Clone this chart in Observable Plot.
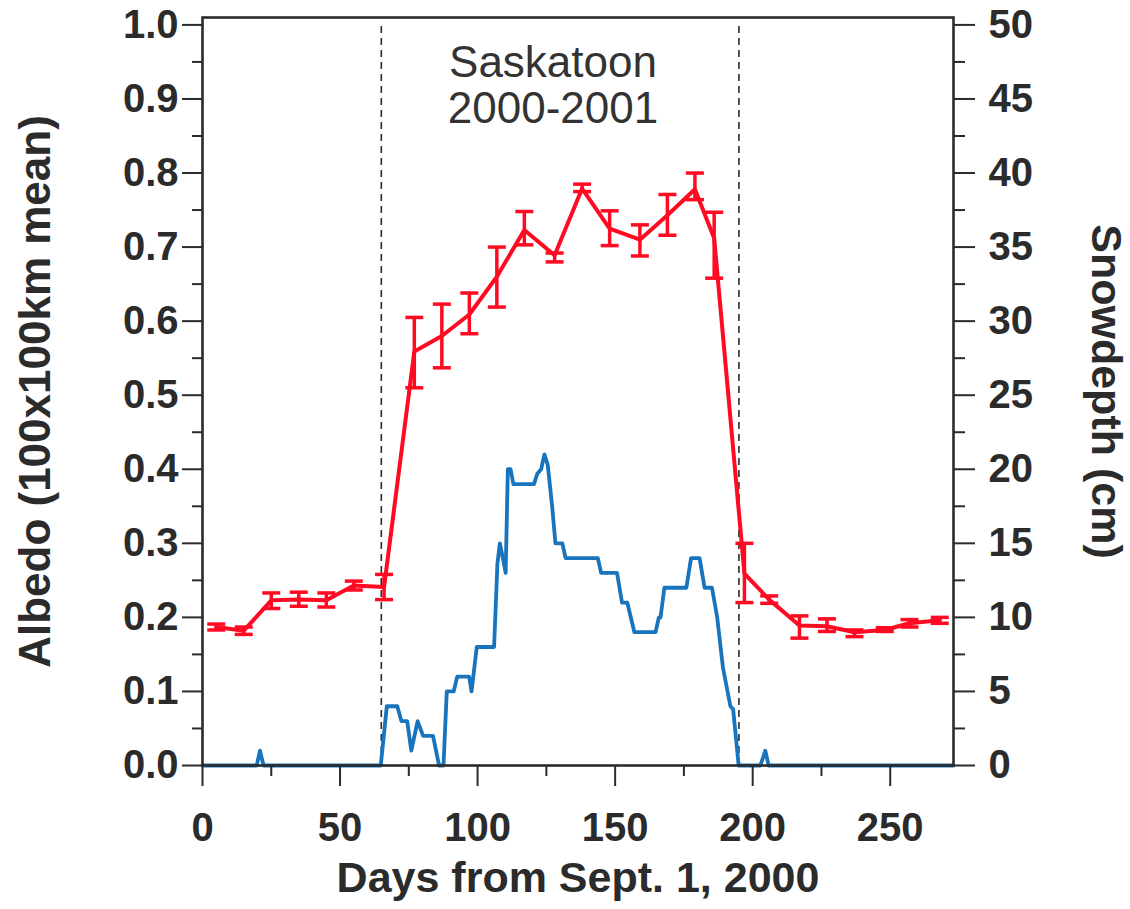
<!DOCTYPE html>
<html><head><meta charset="utf-8">
<script src="https://cdn.jsdelivr.net/npm/d3@7"></script>
<script src="https://cdn.jsdelivr.net/npm/@observablehq/plot@0.6"></script>
<style>body{margin:0;background:#fff}</style>
</head><body><div id="chart"></div>
<script>
// Albedo (100x100km mean), composites with error bars
const albedoDays = [5,15,25,35,45,55,66,77,87,97,107,117,128,138,148,159,169,179,186,197,206,217,227,237,248,257,268];
const albedoMean = [0.187,0.182,0.223,0.224,0.223,0.243,0.241,0.559,0.580,0.609,0.660,0.723,0.689,0.779,0.725,0.710,0.743,0.778,0.712,0.259,0.224,0.189,0.188,0.180,0.183,0.192,0.196];
const albedoLow  = [0.183,0.177,0.212,0.215,0.214,0.237,0.224,0.510,0.537,0.583,0.619,0.703,0.680,0.775,0.702,0.688,0.716,0.764,0.658,0.220,0.219,0.172,0.181,0.174,0.181,0.187,0.192];
const albedoHigh = [0.191,0.187,0.233,0.234,0.233,0.249,0.258,0.605,0.623,0.638,0.700,0.748,0.692,0.785,0.749,0.730,0.771,0.800,0.747,0.300,0.229,0.202,0.198,0.183,0.186,0.197,0.200];

// Snow depth (cm), daily trace vertices
const snowDays  = [0,19.7,20.9,22.2,64.8,67,70.8,72.3,74.4,75.9,78.2,80.2,83.8,86,87.6,88.8,91.3,92.6,96.9,97.8,99.7,106,107.2,108.1,109.3,110.2,111,112,113,120.5,121.7,123.1,124.3,125.5,127.1,128.3,130.8,132,143.7,144.9,150.7,152.5,154.4,157,164.7,165.9,166.5,167.9,175.9,177.6,180.7,182.5,185.2,187.1,189.2,191.9,192.9,194.9,202.8,204.6,205.8,273];
const snowDepth = [0,0,1,0,0,4,4,3,3,1,3,2,2,0,0,5,5,6,6,5,8,8,13.6,15,13.9,13,20,20,19,19,19.7,20,21,20.3,17.5,15,15,14,14,13,13,11,11,9,9,10,10,12,12,14,14,12,12,10,6.6,4,3.8,0,0,1,0,0];

// Event markers (snow onset / melt)
const eventDays = [65, 195];

// Axis ticks
const albedoTicks = [0,0.1,0.2,0.3,0.4,0.5,0.6,0.7,0.8,0.9,1.0];
const albedoMinor = [0.05,0.15,0.25,0.35,0.45,0.55,0.65,0.75,0.85,0.95];
const snowTicks = [0,5,10,15,20,25,30,35,40,45,50];
const snowMax = 50;
const dayTicks = [0,50,100,150,200,250];
const dayMinor = [25,75,125,175,225];

const title = ["Saskatoon\n2000-2001"];
const xLabel = ["Days from Sept. 1, 2000"];
const yLabel = ["Albedo (100x100km mean)"];
const y2Label = ["Snowdepth (cm)"];

const albedo = albedoDays.map((d, i) => ({day: d, mean: albedoMean[i], lo: albedoLow[i], hi: albedoHigh[i]}));
const snow = snowDays.map((d, i) => ({day: d, depth: snowDepth[i] / snowMax}));

const RED = "#ff0a22", BLUE = "#1874bd", INK = "#2b2b2b";
const FONT = "'Liberation Sans', Arial, Helvetica, sans-serif";
const cap = {draw(ctx) { ctx.moveTo(-9, 0); ctx.lineTo(9, 0); }};

const chart = Plot.plot({
  width: 1130,
  height: 909,
  marginLeft: 202,
  marginRight: 177,
  marginTop: 17,
  marginBottom: 144,
  style: {fontFamily: FONT, color: INK, background: "#fff"},
  x: {domain: [0, 273]},
  y: {domain: [0, 1.01]},
  marks: [
    Plot.ruleX(eventDays, {x: d => d, y1: 0, y2: 1, stroke: INK, strokeWidth: 1.6, strokeDasharray: "7,5"}),
    Plot.line(snow, {x: "day", y: "depth", stroke: BLUE, strokeWidth: 3.8, strokeLinejoin: "round"}),
    Plot.ruleX(albedo, {x: "day", y1: "lo", y2: "hi", stroke: RED, strokeWidth: 3.5}),
    Plot.dot(albedo, {x: "day", y: "lo", symbol: cap, stroke: RED, strokeWidth: 3.5, fill: "none"}),
    Plot.dot(albedo, {x: "day", y: "hi", symbol: cap, stroke: RED, strokeWidth: 3.5, fill: "none"}),
    Plot.line(albedo, {x: "day", y: "mean", stroke: RED, strokeWidth: 4, strokeLinejoin: "round"}),
    Plot.frame({stroke: INK, strokeWidth: 2.6}),
    Plot.axisY({ticks: albedoTicks, tickFormat: d3.format(".1f"), tickSize: 20, tickPadding: 4, fontSize: 40, fontWeight: "bold", strokeWidth: 2, label: null}),
    Plot.axisY({ticks: albedoMinor, tickFormat: () => "", tickSize: 10, strokeWidth: 2, label: null}),
    Plot.axisY({anchor: "right", ticks: snowTicks.map(v => v / snowMax), tickFormat: d => String(Math.round(d * snowMax)), tickSize: 21, tickPadding: 14, fontSize: 40, fontWeight: "bold", strokeWidth: 2, label: null}),
    Plot.axisY({anchor: "right", ticks: albedoMinor, tickFormat: () => "", tickSize: 11, strokeWidth: 2, label: null}),
    Plot.axisX({ticks: dayTicks, tickSize: 21, tickPadding: 26, fontSize: 40, fontWeight: "bold", strokeWidth: 2, label: null}),
    Plot.axisX({ticks: dayMinor, tickFormat: () => "", tickSize: 11, strokeWidth: 2, label: null}),
    Plot.text(title, {text: d => d, frameAnchor: "top", dx: -25, dy: 68, lineAnchor: "middle", lineHeight: 1.045, fontSize: 44, fill: "#333"}),
    Plot.text(xLabel, {text: d => d, frameAnchor: "bottom", dy: 113, lineAnchor: "middle", textAnchor: "middle", fontSize: 43, fontWeight: "bold", fill: INK}),
    Plot.text(yLabel, {text: d => d, frameAnchor: "left", dx: -167, rotate: -90, textAnchor: "middle", lineAnchor: "middle", fontSize: 44, fontWeight: "bold", fill: INK}),
    Plot.text(y2Label, {text: d => d, frameAnchor: "right", dx: 152, rotate: 90, textAnchor: "middle", lineAnchor: "middle", fontSize: 43, fontWeight: "bold", fill: INK})
  ]
});
document.getElementById("chart").appendChild(chart);
</script>
</body></html>
